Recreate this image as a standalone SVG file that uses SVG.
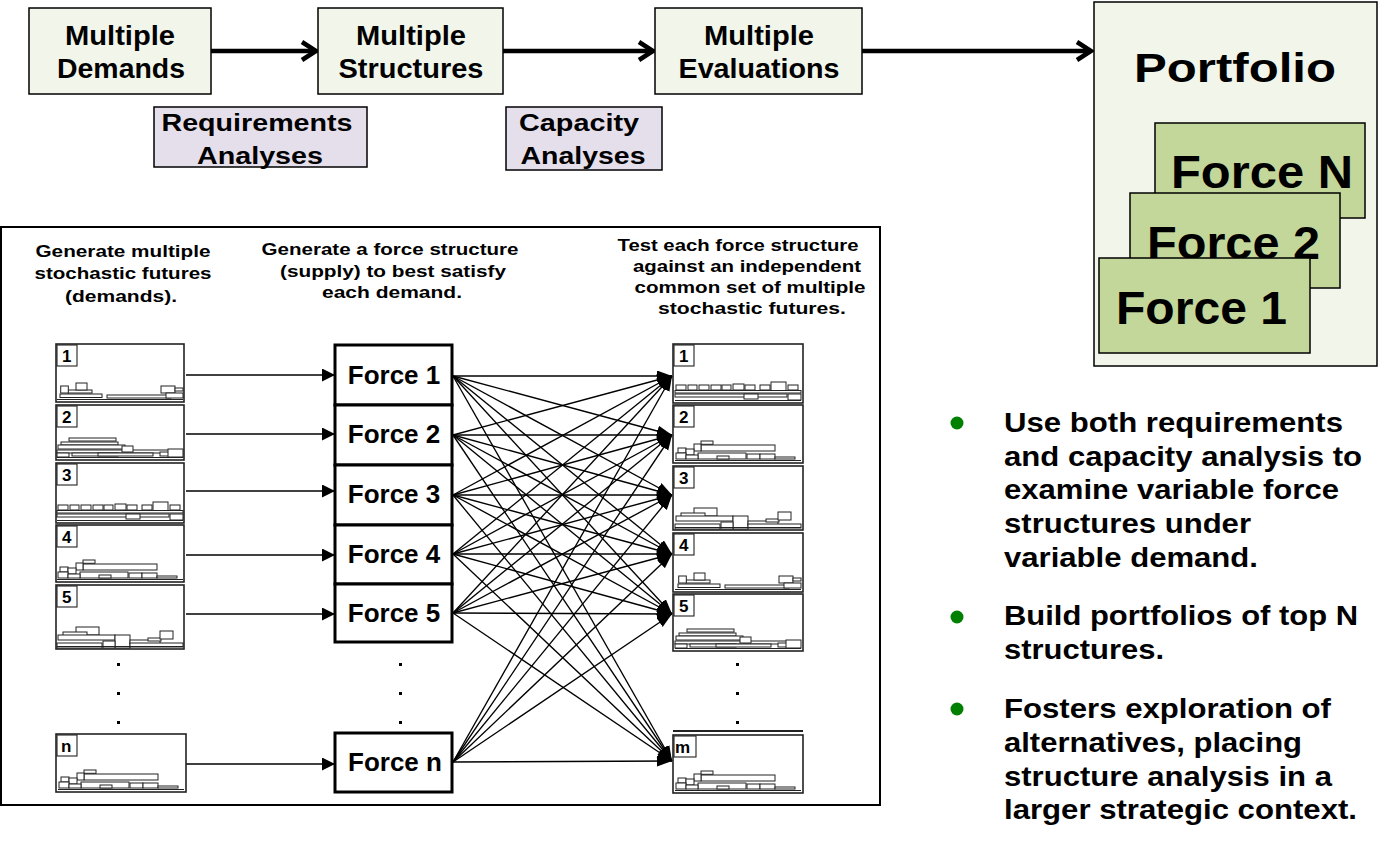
<svg xmlns="http://www.w3.org/2000/svg" xmlns:xlink="http://www.w3.org/1999/xlink" width="1391" height="846" viewBox="0 0 1391 846">
<style>
text{font-family:"Liberation Sans",Arial,sans-serif;font-weight:bold;fill:#000}
.tb{fill:#f2f5ea;stroke:#000;stroke-width:1.5}
.lav{fill:#e5dfec;stroke:#000;stroke-width:1.5}
.grn{fill:#c4d79b;stroke:#000;stroke-width:1.5}
.t27{font-size:27px}
.t23{font-size:23px}
.big{font-size:46px}
.h{font-size:16.5px}
.fb{fill:#fff;stroke:#000;stroke-width:3}
.ft{font-size:26px}
.bl{font-size:28px}
.th{fill:#fff;stroke:#222;stroke-width:1.6}
.lb{fill:#fff;stroke:#222;stroke-width:1.1}
.num{font-size:17px}
.b{fill:#fff;stroke:#222;stroke-width:1}
.base{stroke:#222;stroke-width:1}
.thick{stroke:#000;stroke-width:4.5;fill:none}
.fan{stroke:#000;stroke-width:1.35}
.ln{stroke:#000;stroke-width:1.4}
.dot{fill:#000}
</style>
<defs>
<marker id="tri" markerUnits="userSpaceOnUse" markerWidth="14" markerHeight="14" refX="13" refY="6.5" orient="auto"><path d="M0,0 L13,6.5 L0,13 z" fill="#000"/></marker>
<marker id="fh" markerUnits="userSpaceOnUse" markerWidth="16" markerHeight="12" refX="15" refY="5.5" orient="auto"><path d="M0,0 L15,5.5 L0,11 z" fill="#000"/></marker>
<g id="patA">
<rect class="b" x="4" y="-8" width="42" height="3.5"/><rect class="b" x="51" y="-7" width="64" height="3"/>
<rect class="b" x="12" y="-12" width="24" height="3"/><rect class="b" x="4.7" y="-16" width="7.6" height="7"/>
<rect class="b" x="20" y="-19" width="11" height="7"/><rect class="b" x="105" y="-16" width="14" height="7"/>
<rect class="b" x="119" y="-14" width="8" height="3"/><rect class="b" x="110" y="-9" width="17" height="5"/>
<line class="base" x1="1" y1="-2.5" x2="127" y2="-2.5"/>
</g>
<g id="patB">
<rect class="b" x="13" y="-22" width="47" height="3"/><rect class="b" x="5" y="-18" width="57" height="3"/>
<rect class="b" x="2" y="-15" width="67" height="4"/><rect class="b" x="1" y="-10" width="117" height="3"/>
<rect class="b" x="66" y="-14" width="11" height="6"/><rect class="b" x="16" y="-7" width="46" height="3"/>
<rect class="b" x="42" y="-7" width="55" height="3"/><rect class="b" x="1" y="-7" width="12" height="4"/>
<rect class="b" x="104" y="-8" width="10" height="4"/><rect class="b" x="112" y="-11" width="15" height="8"/>
<line class="base" x1="1" y1="-2.5" x2="127" y2="-2.5"/>
</g>
<g id="patC">
<rect class="b" x="2" y="-18" width="10" height="5"/><rect class="b" x="14" y="-18" width="9" height="5"/>
<rect class="b" x="25" y="-18" width="10" height="5"/><rect class="b" x="37" y="-18" width="10" height="5"/>
<rect class="b" x="48" y="-18" width="9" height="5"/><rect class="b" x="59" y="-19" width="11" height="6"/>
<rect class="b" x="71" y="-18" width="10" height="5"/><rect class="b" x="86" y="-18" width="10" height="5"/>
<rect class="b" x="97" y="-21" width="15" height="9"/><rect class="b" x="114" y="-18" width="10" height="5"/>
<rect class="b" x="1" y="-12.5" width="126" height="2.5"/><rect class="b" x="1" y="-9" width="112" height="3"/>
<rect class="b" x="114" y="-9" width="13" height="6"/><rect class="b" x="70" y="-9" width="14" height="5"/>
<line class="base" x1="1" y1="-2.5" x2="127" y2="-2.5"/>
</g>
<g id="patD">
<rect class="b" x="27" y="-22" width="12" height="3.3"/><rect class="b" x="27" y="-18" width="74" height="6"/>
<rect class="b" x="20" y="-19" width="7" height="7"/><rect class="b" x="4" y="-15" width="8" height="5"/>
<rect class="b" x="12" y="-14" width="8" height="6"/><rect class="b" x="2" y="-10" width="10" height="6"/>
<rect class="b" x="24" y="-10" width="48" height="6"/><rect class="b" x="12" y="-8" width="12" height="4"/>
<rect class="b" x="43" y="-7" width="12" height="3"/><rect class="b" x="73" y="-9" width="13" height="5"/>
<rect class="b" x="86" y="-9" width="15" height="5"/><rect class="b" x="101" y="-6" width="20" height="2"/>
<line class="base" x1="1" y1="-2.5" x2="127" y2="-2.5"/>
</g>
<g id="patE">
<rect class="b" x="20" y="-22" width="23" height="8"/><rect class="b" x="7" y="-17" width="24" height="5"/>
<rect class="b" x="2" y="-14" width="57" height="5"/><rect class="b" x="59" y="-14" width="15" height="13"/>
<rect class="b" x="47" y="-8" width="12" height="7"/><rect class="b" x="1" y="-6" width="45" height="5"/>
<rect class="b" x="74" y="-9" width="30" height="4"/><rect class="b" x="92" y="-11" width="13" height="3"/>
<rect class="b" x="104" y="-18" width="13" height="8"/><rect class="b" x="74" y="-6" width="53" height="4"/>
<line class="base" x1="1" y1="-2.5" x2="127" y2="-2.5"/>
</g>
</defs>

<rect width="1391" height="846" fill="#fff"/>

<g id="connectors">
<line class="thick" x1="211" y1="51" x2="315" y2="51"/><polyline class="thick" points="302,42 316,51 302,60"/>
<line class="thick" x1="503" y1="51" x2="652" y2="51"/><polyline class="thick" points="639,42 653,51 639,60"/>
<line class="thick" x1="862" y1="51" x2="1090" y2="51"/><polyline class="thick" points="1077,42 1091,51 1077,60"/>
<line class="ln" x1="186" y1="375" x2="335" y2="375" marker-end="url(#tri)"/>
<line class="ln" x1="186" y1="434" x2="335" y2="434" marker-end="url(#tri)"/>
<line class="ln" x1="186" y1="491" x2="335" y2="491" marker-end="url(#tri)"/>
<line class="ln" x1="186" y1="555" x2="335" y2="555" marker-end="url(#tri)"/>
<line class="ln" x1="186" y1="614" x2="335" y2="614" marker-end="url(#tri)"/>
<line class="ln" x1="186" y1="764" x2="335" y2="764" marker-end="url(#tri)"/>
<g id="fan">
<line class="fan" x1="453" y1="376" x2="672" y2="376" marker-end="url(#fh)"/><line class="fan" x1="453" y1="376" x2="672" y2="435" marker-end="url(#fh)"/><line class="fan" x1="453" y1="376" x2="672" y2="495" marker-end="url(#fh)"/><line class="fan" x1="453" y1="376" x2="672" y2="554" marker-end="url(#fh)"/><line class="fan" x1="453" y1="376" x2="672" y2="614" marker-end="url(#fh)"/><line class="fan" x1="453" y1="376" x2="672" y2="761" marker-end="url(#fh)"/>
<line class="fan" x1="453" y1="435" x2="672" y2="376" marker-end="url(#fh)"/><line class="fan" x1="453" y1="435" x2="672" y2="435" marker-end="url(#fh)"/><line class="fan" x1="453" y1="435" x2="672" y2="495" marker-end="url(#fh)"/><line class="fan" x1="453" y1="435" x2="672" y2="554" marker-end="url(#fh)"/><line class="fan" x1="453" y1="435" x2="672" y2="614" marker-end="url(#fh)"/><line class="fan" x1="453" y1="435" x2="672" y2="761" marker-end="url(#fh)"/>
<line class="fan" x1="453" y1="495" x2="672" y2="376" marker-end="url(#fh)"/><line class="fan" x1="453" y1="495" x2="672" y2="435" marker-end="url(#fh)"/><line class="fan" x1="453" y1="495" x2="672" y2="495" marker-end="url(#fh)"/><line class="fan" x1="453" y1="495" x2="672" y2="554" marker-end="url(#fh)"/><line class="fan" x1="453" y1="495" x2="672" y2="614" marker-end="url(#fh)"/><line class="fan" x1="453" y1="495" x2="672" y2="761" marker-end="url(#fh)"/>
<line class="fan" x1="453" y1="554" x2="672" y2="376" marker-end="url(#fh)"/><line class="fan" x1="453" y1="554" x2="672" y2="435" marker-end="url(#fh)"/><line class="fan" x1="453" y1="554" x2="672" y2="495" marker-end="url(#fh)"/><line class="fan" x1="453" y1="554" x2="672" y2="554" marker-end="url(#fh)"/><line class="fan" x1="453" y1="554" x2="672" y2="614" marker-end="url(#fh)"/><line class="fan" x1="453" y1="554" x2="672" y2="761" marker-end="url(#fh)"/>
<line class="fan" x1="453" y1="613" x2="672" y2="376" marker-end="url(#fh)"/><line class="fan" x1="453" y1="613" x2="672" y2="435" marker-end="url(#fh)"/><line class="fan" x1="453" y1="613" x2="672" y2="495" marker-end="url(#fh)"/><line class="fan" x1="453" y1="613" x2="672" y2="554" marker-end="url(#fh)"/><line class="fan" x1="453" y1="613" x2="672" y2="614" marker-end="url(#fh)"/><line class="fan" x1="453" y1="613" x2="672" y2="761" marker-end="url(#fh)"/>
<line class="fan" x1="453" y1="762" x2="672" y2="376" marker-end="url(#fh)"/><line class="fan" x1="453" y1="762" x2="672" y2="435" marker-end="url(#fh)"/><line class="fan" x1="453" y1="762" x2="672" y2="495" marker-end="url(#fh)"/><line class="fan" x1="453" y1="762" x2="672" y2="554" marker-end="url(#fh)"/><line class="fan" x1="453" y1="762" x2="672" y2="614" marker-end="url(#fh)"/><line class="fan" x1="453" y1="762" x2="672" y2="761" marker-end="url(#fh)"/>
</g>
</g>

<g id="multiple-demands"><rect class="tb" x="29" y="8" width="182" height="86"/>
<text class="t27" x="120" y="45" text-anchor="middle" textLength="110" lengthAdjust="spacingAndGlyphs">Multiple</text>
<text class="t27" x="121" y="78" text-anchor="middle" textLength="128" lengthAdjust="spacingAndGlyphs">Demands</text></g>
<g id="multiple-structures"><rect class="tb" x="318" y="8" width="185" height="86"/>
<text class="t27" x="411" y="45" text-anchor="middle" textLength="110" lengthAdjust="spacingAndGlyphs">Multiple</text>
<text class="t27" x="411" y="78" text-anchor="middle" textLength="145" lengthAdjust="spacingAndGlyphs">Structures</text></g>
<g id="multiple-evaluations"><rect class="tb" x="655" y="8" width="207" height="86"/>
<text class="t27" x="759" y="45" text-anchor="middle" textLength="110" lengthAdjust="spacingAndGlyphs">Multiple</text>
<text class="t27" x="759" y="78" text-anchor="middle" textLength="161" lengthAdjust="spacingAndGlyphs">Evaluations</text></g>
<g id="requirements-analyses"><rect class="lav" x="154" y="107" width="213" height="60"/>
<text class="t23" x="257" y="131" text-anchor="middle" textLength="191" lengthAdjust="spacingAndGlyphs">Requirements</text>
<text class="t23" x="260" y="164" text-anchor="middle" textLength="126" lengthAdjust="spacingAndGlyphs">Analyses</text></g>
<g id="capacity-analyses"><rect class="lav" x="506" y="107" width="156" height="63"/>
<text class="t23" x="579" y="131" text-anchor="middle" textLength="120" lengthAdjust="spacingAndGlyphs">Capacity</text>
<text class="t23" x="583" y="164" text-anchor="middle" textLength="125" lengthAdjust="spacingAndGlyphs">Analyses</text></g>

<g id="portfolio"><rect class="tb" x="1094" y="2" width="283" height="364"/>
<text x="1235" y="82" font-size="40" text-anchor="middle" textLength="202" lengthAdjust="spacingAndGlyphs">Portfolio</text>
<g id="pf-force-n"><rect class="grn" x="1155" y="123" width="210" height="95"/><text class="big" x="1171" y="188" textLength="182" lengthAdjust="spacingAndGlyphs">Force N</text></g>
<g id="pf-force-2"><rect class="grn" x="1130" y="193" width="210" height="95"/><text class="big" x="1147" y="259" textLength="173" lengthAdjust="spacingAndGlyphs">Force 2</text></g>
<g id="pf-force-1"><rect class="grn" x="1099" y="258" width="211" height="95"/><text class="big" x="1116" y="324" textLength="171" lengthAdjust="spacingAndGlyphs">Force 1</text></g>
</g>

<g id="method-panel">
<rect x="1" y="227" width="879" height="578" fill="none" stroke="#000" stroke-width="2"/>
<g id="header-demands">
<text class="h" x="123" y="257" text-anchor="middle" textLength="175" lengthAdjust="spacingAndGlyphs">Generate multiple</text>
<text class="h" x="123" y="279" text-anchor="middle" textLength="177" lengthAdjust="spacingAndGlyphs">stochastic futures</text>
<text class="h" x="121" y="302" text-anchor="middle" textLength="112" lengthAdjust="spacingAndGlyphs">(demands).</text>
</g>
<g id="header-structures">
<text class="h" x="390" y="255" text-anchor="middle" textLength="257" lengthAdjust="spacingAndGlyphs">Generate a force structure</text>
<text class="h" x="393" y="277" text-anchor="middle" textLength="226" lengthAdjust="spacingAndGlyphs">(supply) to best satisfy</text>
<text class="h" x="392" y="298" text-anchor="middle" textLength="140" lengthAdjust="spacingAndGlyphs">each demand.</text>
</g>
<g id="header-tests">
<text class="h" x="738" y="251" text-anchor="middle" textLength="241" lengthAdjust="spacingAndGlyphs">Test each force structure</text>
<text class="h" x="747" y="272" text-anchor="middle" textLength="228" lengthAdjust="spacingAndGlyphs">against an independent</text>
<text class="h" x="750" y="293" text-anchor="middle" textLength="231" lengthAdjust="spacingAndGlyphs">common set of multiple</text>
<text class="h" x="752" y="314" text-anchor="middle" textLength="188" lengthAdjust="spacingAndGlyphs">stochastic futures.</text>
</g>

<g id="demand-1"><rect class="th" x="56" y="344" width="128" height="58"/><use xlink:href="#patA" x="56" y="402"/><rect class="lb" x="57" y="345" width="20" height="21"/><text class="num" x="62" y="362">1</text></g>
<g id="demand-2"><rect class="th" x="56" y="405" width="128" height="55"/><use xlink:href="#patB" x="56" y="460"/><rect class="lb" x="57" y="406" width="20" height="21"/><text class="num" x="62" y="423">2</text></g>
<g id="demand-3"><rect class="th" x="56" y="463" width="128" height="60"/><use xlink:href="#patC" x="56" y="523"/><rect class="lb" x="57" y="464" width="20" height="21"/><text class="num" x="62" y="481">3</text></g>
<g id="demand-4"><rect class="th" x="56" y="525" width="128" height="57"/><use xlink:href="#patD" x="56" y="582"/><rect class="lb" x="57" y="526" width="20" height="21"/><text class="num" x="62" y="543">4</text></g>
<g id="demand-5"><rect class="th" x="56" y="585" width="128" height="64"/><use xlink:href="#patE" x="56" y="649"/><rect class="lb" x="57" y="586" width="20" height="21"/><text class="num" x="62" y="603">5</text></g>
<g id="demand-n"><rect class="th" x="56" y="734" width="130" height="58"/><use xlink:href="#patD" x="57" y="792"/><rect class="lb" x="57" y="735" width="20" height="21"/><text class="num" x="61" y="752">n</text></g>
<g id="dots-left"><rect class="dot" x="117" y="663" width="3" height="3"/><rect class="dot" x="117" y="692" width="3" height="3"/><rect class="dot" x="117" y="721" width="3" height="3"/></g>

<g id="force-1"><rect class="fb" x="335" y="345" width="117" height="60"/><text class="ft" x="394" y="384" text-anchor="middle">Force 1</text></g>
<g id="force-2"><rect class="fb" x="335" y="405" width="117" height="60"/><text class="ft" x="394" y="443" text-anchor="middle">Force 2</text></g>
<g id="force-3"><rect class="fb" x="335" y="465" width="117" height="60"/><text class="ft" x="394" y="503" text-anchor="middle">Force 3</text></g>
<g id="force-4"><rect class="fb" x="335" y="525" width="117" height="59"/><text class="ft" x="394" y="563" text-anchor="middle">Force 4</text></g>
<g id="force-5"><rect class="fb" x="335" y="584" width="117" height="58"/><text class="ft" x="394" y="622" text-anchor="middle">Force 5</text></g>
<g id="force-n"><rect class="fb" x="335" y="733" width="117" height="59"/><text class="ft" x="395" y="771" text-anchor="middle">Force n</text></g>
<g id="dots-mid"><rect class="dot" x="399" y="663" width="3" height="3"/><rect class="dot" x="399" y="692" width="3" height="3"/><rect class="dot" x="399" y="721" width="3" height="3"/></g>

<g id="eval-1"><rect class="th" x="673" y="344" width="130" height="59"/><use xlink:href="#patC" x="674" y="403"/><rect class="lb" x="674" y="345" width="20" height="21"/><text class="num" x="679" y="362">1</text></g>
<g id="eval-2"><rect class="th" x="673" y="405" width="130" height="58"/><use xlink:href="#patD" x="674" y="463"/><rect class="lb" x="674" y="406" width="20" height="21"/><text class="num" x="679" y="423">2</text></g>
<g id="eval-3"><rect class="th" x="673" y="466" width="130" height="64"/><use xlink:href="#patE" x="674" y="530"/><rect class="lb" x="674" y="467" width="20" height="21"/><text class="num" x="679" y="484">3</text></g>
<g id="eval-4"><rect class="th" x="673" y="533" width="130" height="59"/><use xlink:href="#patA" x="674" y="592"/><rect class="lb" x="674" y="534" width="20" height="21"/><text class="num" x="679" y="551">4</text></g>
<g id="eval-5"><rect class="th" x="673" y="594" width="130" height="57"/><use xlink:href="#patB" x="674" y="651"/><rect class="lb" x="674" y="595" width="20" height="21"/><text class="num" x="679" y="612">5</text></g>
<g id="eval-m"><line x1="673" y1="731" x2="803" y2="731" stroke="#222" stroke-width="2"/><rect class="th" x="673" y="735" width="130" height="58"/><use xlink:href="#patD" x="674" y="793"/><rect class="lb" x="674" y="736" width="22" height="21"/><text class="num" x="675" y="753">m</text></g>
<g id="dots-right"><rect class="dot" x="736" y="663" width="3" height="3"/><rect class="dot" x="736" y="692" width="3" height="3"/><rect class="dot" x="736" y="721" width="3" height="3"/></g>
</g>

<g id="bullets">
<circle cx="957" cy="423" r="6.5" fill="#008000"/>
<circle cx="957" cy="617" r="6.5" fill="#008000"/>
<circle cx="957" cy="709" r="6.5" fill="#008000"/>
<text class="bl" x="1004" y="432" textLength="339" lengthAdjust="spacingAndGlyphs">Use both requirements</text>
<text class="bl" x="1004" y="466" textLength="358" lengthAdjust="spacingAndGlyphs">and capacity analysis to</text>
<text class="bl" x="1004" y="499" textLength="335" lengthAdjust="spacingAndGlyphs">examine variable force</text>
<text class="bl" x="1004" y="533" textLength="247" lengthAdjust="spacingAndGlyphs">structures under</text>
<text class="bl" x="1004" y="567" textLength="254" lengthAdjust="spacingAndGlyphs">variable demand.</text>
<text class="bl" x="1004" y="625" textLength="354" lengthAdjust="spacingAndGlyphs">Build portfolios of top N</text>
<text class="bl" x="1004" y="659" textLength="160" lengthAdjust="spacingAndGlyphs">structures.</text>
<text class="bl" x="1004" y="718" textLength="327" lengthAdjust="spacingAndGlyphs">Fosters exploration of</text>
<text class="bl" x="1004" y="752" textLength="298" lengthAdjust="spacingAndGlyphs">alternatives, placing</text>
<text class="bl" x="1004" y="786" textLength="328" lengthAdjust="spacingAndGlyphs">structure analysis in a</text>
<text class="bl" x="1004" y="819" textLength="353" lengthAdjust="spacingAndGlyphs">larger strategic context.</text>
</g>
</svg>
